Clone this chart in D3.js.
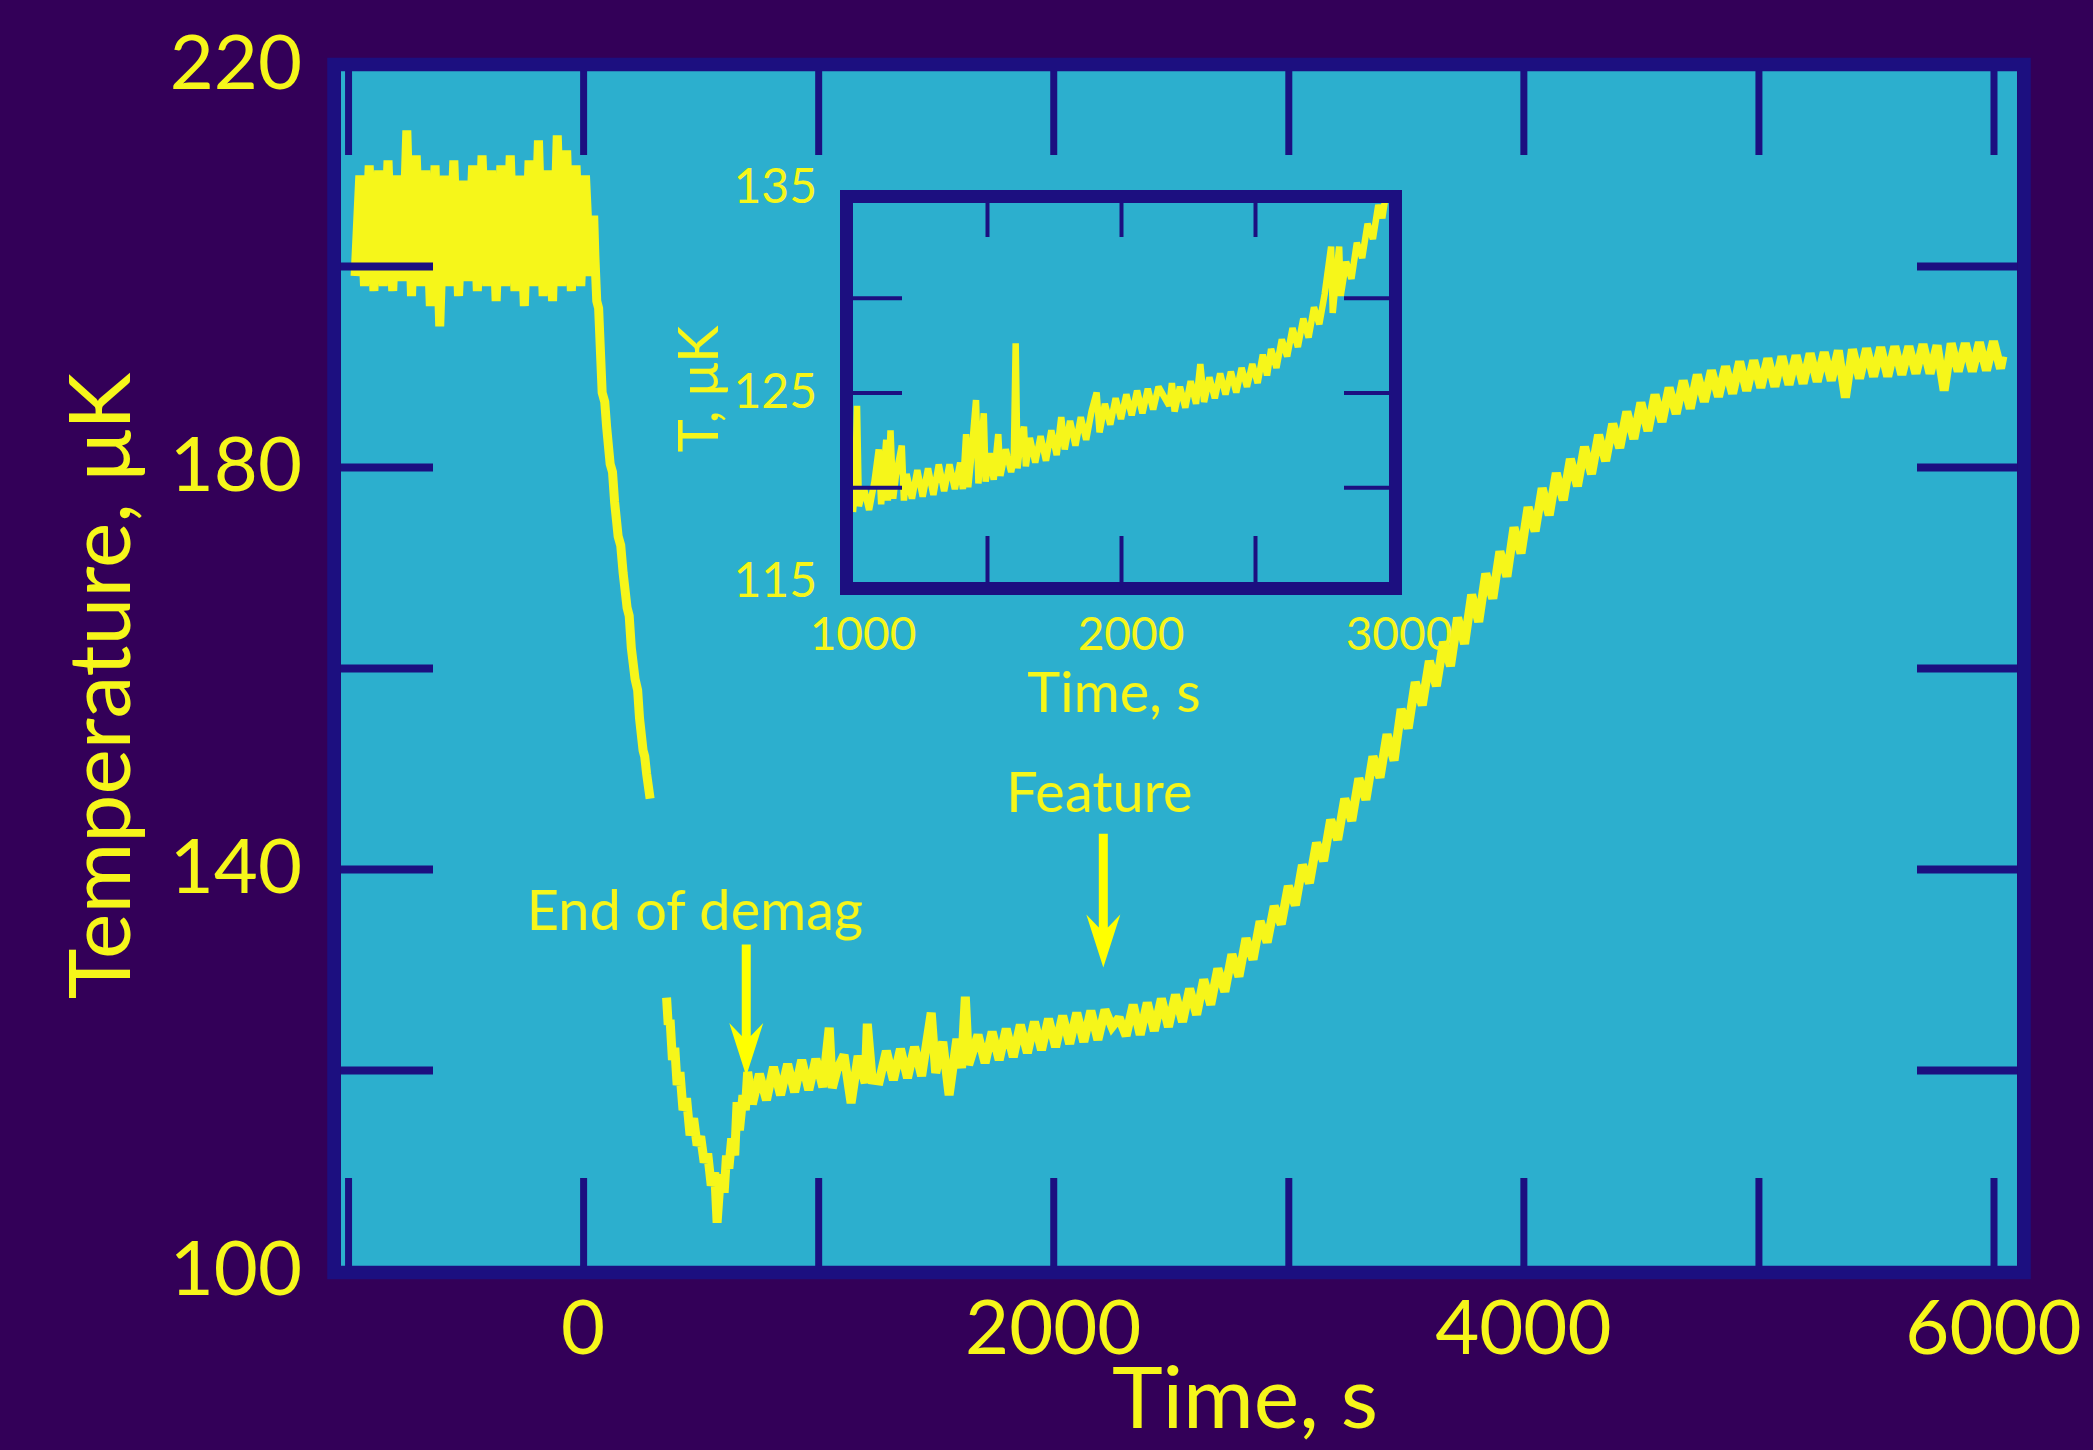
<!DOCTYPE html>
<html>
<head>
<meta charset="utf-8">
<title>Temperature vs time</title>
<style>
  html, body { margin: 0; padding: 0; background: #330058; }
  svg { display: block; }
  text { font-family: Lato, "Open Sans", sans-serif; fill: #f6f61a; }
</style>
</head>
<body>
<script src="https://d3js.org/d3.v7.min.js"></script>
<script>
// ---- data: [time s, temperature uK] ----
var preDemag = [
  [-970,199],[-950,209],[-930,198],[-910,210],[-890,197.5],[-870,209.5],[-850,198],[-830,210.5],
  [-810,197.5],[-790,209],[-770,198.5],[-750,213.5],[-730,197],[-710,211],[-690,198],[-670,209.5],
  [-650,196],[-630,210],[-610,194],[-590,209],[-570,198],[-550,210.5],[-530,197],[-510,208.5],
  [-490,198.5],[-470,210],[-450,197.5],[-430,211],[-410,198],[-390,209.5],[-370,196.5],[-350,210],
  [-330,198],[-310,211],[-290,197.5],[-270,209],[-250,196],[-230,210.5],[-210,198],[-190,212.5],
  [-170,197],[-150,209.5],[-130,196.5],[-110,213],[-90,198],[-70,211.5],[-50,197.5],[-30,210],
  [-10,198],[10,209],[30,199],[45,205]
];

var demagRamp = [
  [50,201],[58,196.5],[66,195.8],[81,187.4],[92,186.5],[100,184],[115,180.3],[125,179.5],
  [134,176.5],[149,173.1],[160,172.2],[170,169.5],[187,166],[196,165.2],[205,162],[221,158.9],
  [232,157.8],[240,155],[255,151.8],[262,151.2],[270,149.5],[285,147]
];

var afterDemag = [
  [355,127.2],[362,124.5],[370,125.0],[380,121.0],[390,122.2],[400,118.5],[412,119.8],[425,116.0],
  [440,117.2],[455,113.5],[470,115.2],[485,112.5],[500,113.4],[515,110.8],[530,111.7],[545,108.5],
  [560,109.8],[570,104.8],[580,108.2],[592,109.6],[600,107.8],[610,111.5],[620,110.2],[632,113.2],
  [645,111.5],[655,116.8],[665,114.0],[680,117.5],[690,116.0],[700,119.8],[720,116.6],[750,119.6],
  [780,117.0],[810,120.3],[840,117.5],[870,120.6],[900,117.8],[930,121.0],[960,118.0],[990,121.1],
  [1020,118.3],[1047,124.2],[1060,118.2],[1080,120.0],[1110,121.5],[1140,116.7],[1170,121.4],[1200,118.7],
  [1209,124.6],[1230,119.0],[1260,118.9],[1290,121.9],[1320,119.0],[1350,122.1],[1380,119.2],[1410,122.3],
  [1440,119.4],[1481,125.7],[1500,119.7],[1530,122.8],[1557,117.5],[1590,123.1],[1610,120.2],[1626,127.3],
  [1640,120.5],[1680,123.5],[1710,120.7],[1740,123.8],[1770,121.0],[1800,124.1],[1830,121.3],[1860,124.5],
  [1890,121.7],[1920,124.8],[1950,122.0],[1980,125.1],[2010,122.3],[2040,125.4],[2070,122.6],[2100,125.7],
  [2130,122.8],[2160,125.9],[2190,123.0],[2220,126.0],[2250,124.3],[2280,125.2],[2310,123.4],[2340,126.5],
  [2370,123.5],[2400,126.7],[2430,123.9],[2460,127.1],[2490,124.3],[2520,127.5],[2550,124.8],[2580,128.1],
  [2610,125.5],[2640,129.0],[2670,126.5],[2700,130.1],[2730,127.8],[2760,131.5],[2790,129.3],[2820,133.1],
  [2850,131.0],[2880,134.8],[2910,132.7],[2940,136.3],[2970,134.5],[3000,138.3],[3030,136.4],[3060,140.4],
  [3090,138.6],[3120,142.6],[3150,140.8],[3180,144.9],[3210,142.9],[3240,147.0],[3270,144.8],[3300,149.0],
  [3330,146.9],[3360,151.2],[3390,149.1],[3420,153.4],[3450,150.8],[3480,155.9],[3510,154.0],[3540,158.6],
  [3570,156.3],[3600,160.7],[3630,158.2],[3660,162.6],[3690,160.2],[3720,165.0],[3750,162.4],[3780,167.3],
  [3810,164.6],[3840,169.4],[3870,166.9],[3900,171.6],[3930,169.1],[3960,174.0],[3990,171.4],[4020,176.0],
  [4050,173.6],[4080,177.9],[4110,175.2],[4140,179.4],[4170,176.7],[4200,180.8],[4230,178.1],[4260,182.0],
  [4290,179.3],[4320,183.2],[4350,180.6],[4380,184.3],[4410,181.9],[4440,185.5],[4470,182.8],[4500,186.4],
  [4530,183.6],[4560,187.2],[4590,184.5],[4620,187.9],[4650,185.3],[4680,188.6],[4710,185.8],[4740,189.2],
  [4770,186.5],[4800,189.6],[4830,187.0],[4860,190.0],[4890,187.3],[4920,190.5],[4950,187.6],[4980,190.6],
  [5010,187.9],[5040,190.8],[5070,188.0],[5100,191.0],[5130,188.2],[5160,191.1],[5190,188.3],[5220,191.3],
  [5250,188.5],[5280,191.4],[5310,188.6],[5340,191.6],[5370,186.9],[5400,191.7],[5430,188.8],[5460,191.8],
  [5490,189.0],[5520,191.9],[5550,189.0],[5580,192.0],[5610,189.2],[5640,192.0],[5670,189.3],[5700,192.2],
  [5730,189.3],[5760,192.1],[5790,187.6],[5820,192.3],[5850,189.5],[5880,192.3],[5910,189.5],[5940,192.4],
  [5970,189.6],[6000,192.5],[6030,189.8],[6040,191.0]
];

// inset: close-up of 1000-3000 s
var insetTrace = [
  [1000,118.7],[1008,120.1],[1015,124.3],[1022,119.0],[1040,120.0],[1060,118.8],[1080,120.3],[1096,122.0],
  [1105,119.1],[1124,122.5],[1130,119.3],[1140,123.0],[1150,119.4],[1160,120.6],[1182,122.2],[1190,119.3],
  [1200,120.7],[1220,119.4],[1240,120.9],[1260,119.5],[1280,121.0],[1300,119.6],[1320,121.2],[1340,119.8],
  [1360,121.2],[1380,119.9],[1400,121.3],[1410,119.9],[1422,122.8],[1430,120.0],[1440,121.4],[1459,124.6],
  [1468,120.2],[1488,123.9],[1495,120.3],[1510,121.8],[1525,120.4],[1542,122.8],[1550,120.6],[1570,122.0],
  [1590,120.8],[1600,121.5],[1607,127.6],[1614,121.0],[1625,122.4],[1638,123.2],[1645,121.1],[1660,122.6],
  [1680,121.3],[1700,122.7],[1720,121.4],[1740,123.0],[1760,121.7],[1777,123.7],[1790,122.0],[1810,123.5],
  [1830,122.2],[1850,123.7],[1870,122.5],[1890,124.0],[1909,125.0],[1920,122.9],[1940,124.4],[1960,123.3],
  [1980,124.7],[2000,123.6],[2020,124.9],[2040,123.8],[2060,125.1],[2080,123.9],[2100,125.2],[2120,124.1],
  [2140,125.3],[2180,124.3],[2190,125.5],[2200,124.0],[2220,125.3],[2240,124.2],[2260,125.6],[2280,124.4],
  [2296,126.5],[2310,124.5],[2330,125.8],[2350,124.7],[2370,126.0],[2390,124.9],[2410,126.1],[2430,125.0],
  [2450,126.3],[2470,125.3],[2490,126.5],[2510,125.5],[2529,127.0],[2545,125.9],[2560,127.3],[2580,126.3],
  [2600,127.8],[2620,126.9],[2640,128.4],[2660,127.4],[2680,128.9],[2700,127.9],[2720,129.5],[2740,128.6],
  [2760,130.2],[2784,132.7],[2790,129.2],[2814,132.7],[2820,130.1],[2840,131.9],[2860,131.0],[2880,132.9],
  [2900,132.1],[2920,133.9],[2940,133.1],[2960,134.9],[2975,134.2],[2990,135.6]
];

var xTicks = [-1000, 0, 1000, 2000, 3000, 4000, 5000, 6000];
var xLabels = [0, 2000, 4000, 6000];
var yTicks = [120, 140, 160, 180, 200];
var yLabels = [100, 140, 180, 220];

var insetXTicks = [1500, 2000, 2500];
var insetXLabels = [1000, 2000, 3000];
var insetYTicks = [120, 125, 130];
var insetYLabels = [115, 125, 135];

var notes = [
  {label: "End of demag", t: 476, temp: 133.9, arrowT: 694, from: 132.5, to: 119.4},
  {label: "Feature", t: 2196, temp: 145.7, arrowT: 2213, from: 143.5, to: 130.2}
];

// ---- colours ----
var BG = "#330058", PLOT = "#2cafce", NAVY = "#1c0f80", YEL = "#f6f61a";

var W = 2093, H = 1450;
var svg = d3.select("body").append("svg").attr("width", W).attr("height", H);
svg.append("rect").attr("width", W).attr("height", H).attr("fill", BG);

// main plot
var x = d3.scaleLinear().domain([-1030, 6100]).range([341, 2017]);
var y = d3.scaleLinear().domain([100, 220]).range([1271, 65]);
var plot = {x: 341, y: 71, w: 1676, h: 1195};

svg.append("rect").attr("x", plot.x).attr("y", plot.y)
  .attr("width", plot.w).attr("height", plot.h).attr("fill", PLOT);

var defs = svg.append("defs");
defs.append("clipPath").attr("id", "mainClip").append("rect")
  .attr("x", plot.x).attr("y", plot.y).attr("width", plot.w).attr("height", plot.h);

var line = d3.line().x(d => x(d[0])).y(d => y(d[1]));

var traces = svg.append("g").attr("clip-path", "url(#mainClip)");
[preDemag.concat(demagRamp), afterDemag].forEach(function (seg) {
  traces.append("path")
    .attr("d", line(seg))
    .attr("fill", "none")
    .attr("stroke", YEL)
    .attr("stroke-width", 9)
    .attr("stroke-linejoin", "miter")
    .attr("stroke-miterlimit", 2);
});

function tickAxis(g, axis, width) {
  g.call(axis);
  g.select(".domain").remove();
  g.selectAll("line").attr("stroke", NAVY).attr("stroke-width", width);
  g.selectAll("text").remove();
}

tickAxis(svg.append("g").attr("transform", "translate(0," + (plot.y + plot.h) + ")"),
  d3.axisBottom(x).tickValues(xTicks).tickSize(-88), 7);
tickAxis(svg.append("g").attr("transform", "translate(0," + plot.y + ")"),
  d3.axisTop(x).tickValues(xTicks).tickSize(-84), 7);
tickAxis(svg.append("g").attr("transform", "translate(" + plot.x + ",0)"),
  d3.axisLeft(y).tickValues(yTicks).tickSize(-92), 8);
tickAxis(svg.append("g").attr("transform", "translate(" + (plot.x + plot.w) + ",0)"),
  d3.axisRight(y).tickValues(yTicks).tickSize(-100), 8);

svg.append("rect")
  .attr("x", 334).attr("y", 64.5).attr("width", 1690).attr("height", 1208)
  .attr("fill", "none").attr("stroke", NAVY).attr("stroke-width", 13.5);

// tick labels
svg.selectAll(".xlab").data(xLabels).enter().append("text")
  .attr("x", d => x(d)).attr("y", 1354)
  .attr("text-anchor", "middle").attr("font-size", 76)
  .text(d => d);
svg.selectAll(".ylab").data(yLabels).enter().append("text")
  .attr("x", 302).attr("y", d => y(d) + 24)
  .attr("text-anchor", "end").attr("font-size", 76)
  .text(d => d);

svg.append("text").attr("x", 1245).attr("y", 1428)
  .attr("text-anchor", "middle").attr("font-size", 86).text("Time, s");
svg.append("text").attr("transform", "translate(130,686) rotate(-90)")
  .attr("text-anchor", "middle").attr("font-size", 86).text("Temperature, \u03bcK");

// annotations
function arrowPath(cx, y0, y1) {
  var s = 4.5, hw = 17, hl = 53, notch = 13;
  return "M" + (cx - s) + "," + y0 +
    "L" + (cx - s) + "," + (y1 - hl + notch) +
    "L" + (cx - hw) + "," + (y1 - hl) +
    "L" + cx + "," + y1 +
    "L" + (cx + hw) + "," + (y1 - hl) +
    "L" + (cx + s) + "," + (y1 - hl + notch) +
    "L" + (cx + s) + "," + y0 + "Z";
}
notes.forEach(function (n) {
  svg.append("text").attr("x", x(n.t)).attr("y", y(n.temp))
    .attr("text-anchor", "middle").attr("font-size", 56).text(n.label);
  svg.append("path").attr("d", arrowPath(x(n.arrowT), y(n.from), y(n.to)))
    .attr("fill", "#ffff00");
});

// inset
var xi = d3.scaleLinear().domain([1000, 3000]).range([853, 1389]);
var yi = d3.scaleLinear().domain([115, 135]).range([582, 203]);
var ip = {x: 853, y: 203, w: 536, h: 379};

svg.append("rect").attr("x", ip.x).attr("y", ip.y)
  .attr("width", ip.w).attr("height", ip.h).attr("fill", PLOT);
defs.append("clipPath").attr("id", "insetClip").append("rect")
  .attr("x", ip.x).attr("y", ip.y).attr("width", ip.w).attr("height", ip.h);

var iline = d3.line().x(d => xi(d[0])).y(d => yi(d[1]));
svg.append("g").attr("clip-path", "url(#insetClip)").append("path")
  .attr("d", iline(insetTrace))
  .attr("fill", "none").attr("stroke", YEL).attr("stroke-width", 6.5)
  .attr("stroke-linejoin", "miter").attr("stroke-miterlimit", 2);

tickAxis(svg.append("g").attr("transform", "translate(0," + (ip.y + ip.h) + ")"),
  d3.axisBottom(xi).tickValues(insetXTicks).tickSize(-46), 4);
tickAxis(svg.append("g").attr("transform", "translate(0," + ip.y + ")"),
  d3.axisTop(xi).tickValues(insetXTicks).tickSize(-34), 4);
tickAxis(svg.append("g").attr("transform", "translate(" + ip.x + ",0)"),
  d3.axisLeft(yi).tickValues(insetYTicks).tickSize(-49), 4);
tickAxis(svg.append("g").attr("transform", "translate(" + (ip.x + ip.w) + ",0)"),
  d3.axisRight(yi).tickValues(insetYTicks).tickSize(-45), 4);

svg.append("rect")
  .attr("x", 846.5).attr("y", 196.5).attr("width", 549).attr("height", 392)
  .attr("fill", "none").attr("stroke", NAVY).attr("stroke-width", 13);

svg.selectAll(".ixlab").data(insetXLabels).enter().append("text")
  .attr("x", d => xi(d) + 10).attr("y", 650)
  .attr("text-anchor", "middle").attr("font-size", 46)
  .text(d => d);
svg.selectAll(".iylab").data(insetYLabels).enter().append("text")
  .attr("x", 817).attr("y", d => yi(d) + (d === 135 ? 0 : 15))
  .attr("text-anchor", "end").attr("font-size", 48)
  .text(d => d);

svg.append("text").attr("x", 1114).attr("y", 712)
  .attr("text-anchor", "middle").attr("font-size", 56).text("Time, s");
svg.append("text").attr("transform", "translate(718,389) rotate(-90)")
  .attr("text-anchor", "middle").attr("font-size", 56).text("T, \u03bcK");
</script>
</body>
</html>
